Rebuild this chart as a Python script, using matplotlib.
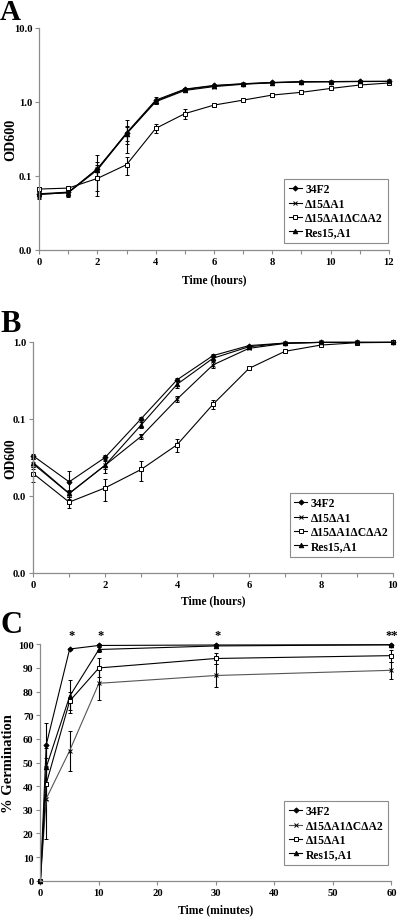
import matplotlib.pyplot as plt
import numpy as np
from matplotlib.ticker import FixedLocator, FixedFormatter
from matplotlib.lines import Line2D

# ---- data ----
# A: growth curve, hours 0-12
hours_a = list(range(13))
a_34f2 = [0.057, 0.060, 0.123, 0.38, 1.05, 1.48, 1.66, 1.75, 1.82, 1.86, 1.87, 1.88, 1.88]
a_d15 = [0.056, 0.059, 0.125, 0.37, 1.00, 1.42, 1.60, 1.72, 1.80, 1.85, 1.86, 1.87, 1.88]
a_cdel = [0.066, 0.068, 0.092, 0.141, 0.436, 0.69, 0.90, 1.05, 1.23, 1.34, 1.51, 1.68, 1.79]
a_res = [0.056, 0.059, 0.120, 0.37, 1.02, 1.46, 1.64, 1.74, 1.81, 1.86, 1.87, 1.88, 1.88]
a_34f2_err = [0.008, 0.008, 0.07, 0.18, 0.10, 0.05, 0.04, 0.03, 0.02, 0.02, 0.02, 0.02, 0.02]
a_d15_err = [0.006, 0.006, 0.03, 0.10, 0.06, 0.04, 0.03, 0.02, 0.02, 0.02, 0.02, 0.02, 0.02]
a_cdel_err = [0.004, 0.004, 0.03, 0.04, 0.06, 0.10, 0.04, 0.03, 0.04, 0.05, 0.03, 0.03, 0.03]
a_res_err = [0.005, 0.005, 0.02, 0.08, 0.05, 0.04, 0.03, 0.02, 0.02, 0.02, 0.02, 0.02, 0.02]

# B: growth curve, hours 0-10
hours_b = list(range(11))
b_34f2 = [0.033, 0.0152, 0.0315, 0.100, 0.32, 0.66, 0.89, 0.96, 0.98, 0.98, 0.98]
b_d15 = [0.026, 0.0107, 0.025, 0.059, 0.18, 0.50, 0.82, 0.95, 0.98, 0.98, 0.98]
b_cdel = [0.0195, 0.0083, 0.0127, 0.022, 0.046, 0.154, 0.45, 0.75, 0.905, 0.97, 0.98]
b_res = [0.027, 0.0108, 0.025, 0.083, 0.28, 0.61, 0.86, 0.96, 0.98, 0.98, 0.98]
b_34f2_err = [0.002, 0.006, 0.002, 0.004, 0.015, 0.03, 0.02, 0.01, 0.01, 0.01, 0.01]
b_d15_err = [0.004, 0.001, 0.003, 0.005, 0.015, 0.04, 0.02, 0.01, 0.01, 0.01, 0.01]
b_cdel_err = [0.0045, 0.0013, 0.004, 0.0065, 0.009, 0.02, 0.02, 0.03, 0.02, 0.01, 0.01]
b_res_err = [0.003, 0.001, 0.005, 0.008, 0.03, 0.04, 0.02, 0.01, 0.01, 0.01, 0.01]

# C: germination, minutes
minutes = [0, 1, 5, 10, 30, 60]
c_34f2 = [0, 57.5, 98.0, 99.5, 99.7, 99.8]
c_cdel = [0, 34.7, 55.0, 83.5, 86.8, 89.0]
c_d15 = [0, 41.0, 76.0, 90.0, 94.0, 95.2]
c_res = [0, 48.0, 78.0, 97.8, 99.3, 99.8]
c_34f2_err = [0, 9, 0.5, 0.5, 0.5, 0.5]
c_cdel_err = [0, 17, 8.5, 7, 4.7, 3.7]
c_d15_err = [0, 7, 4, 4, 2.2, 2.5]
c_res_err = [0, 8, 7, 1, 0.5, 0.5]
star_x = [5.3, 10.3, 30.3, 60]
star_txt = ['*', '*', '*', '**']

lab_34f2 = '34F2'
lab_d15 = 'Δ15ΔA1'
lab_cdel = 'Δ15ΔA1ΔCΔA2'
lab_res = 'Res15,A1'

plt.rcParams['font.family'] = ['Liberation Serif', 'DejaVu Serif']
plt.rcParams['font.weight'] = 'bold'
plt.rcParams['axes.labelweight'] = 'bold'

GRAY = '#8c8c8c'
fig = plt.figure(figsize=(4, 9.2), dpi=100)


def style_axes(ax):
    for s in ['top', 'right']:
        ax.spines[s].set_visible(False)
    for s in ['left', 'bottom']:
        ax.spines[s].set_color(GRAY)
        ax.spines[s].set_linewidth(0.9)
    ax.tick_params(direction='out', length=3, width=0.8, color=GRAY,
                   labelsize=7.6, pad=2)
    ax.tick_params(which='minor', length=0)
    for t in ax.get_xticklabels() + ax.get_yticklabels():
        t.set_fontweight('bold')


def series(ax, x, y, e, marker, ms, label, color='black', mfc='black'):
    ax.errorbar(x, y, yerr=e, color=color, lw=0.8, marker=marker, ms=ms,
                mfc=mfc, mec='black', mew=0.7, elinewidth=0.8, ecolor='black',
                capsize=1.6, capthick=0.8, clip_on=False)
    return Line2D([], [], color=color, lw=0.8, marker=marker, ms=ms,
                  mfc=mfc, mec='black', mew=0.7, label=label)


def legend(ax, handles, anchor):
    leg = ax.legend(handles=handles, loc='lower right', bbox_to_anchor=anchor,
                    borderaxespad=0, prop={'size': 8.4, 'weight': 'bold'},
                    handlelength=1.1, handletextpad=0.3, labelspacing=0.2,
                    borderpad=0.4, fancybox=False, framealpha=1, edgecolor=GRAY)
    leg.get_frame().set_linewidth(0.8)
    return leg


# ---- A ----
axA = fig.add_axes([0.098, 0.7275, 0.874, 0.2413])
hA = [series(axA, hours_a, a_34f2, a_34f2_err, 'D', 2.6, lab_34f2),
      series(axA, hours_a, a_d15, a_d15_err, 'x', 3.2, lab_d15),
      series(axA, hours_a, a_cdel, a_cdel_err, 's', 3.4, lab_cdel, mfc='white'),
      series(axA, hours_a, a_res, a_res_err, '^', 3.2, lab_res)]
axA.set_yscale('log')
axA.set_ylim(0.01, 10)
axA.set_xlim(0, 12)
axA.yaxis.set_major_locator(FixedLocator([0.01, 0.1, 1, 10]))
axA.yaxis.set_major_formatter(FixedFormatter(['0.0', '0.1', '1.0', '10.0']))
axA.yaxis.set_minor_locator(FixedLocator([]))
axA.set_xticks(hours_a)
axA.set_xticklabels([str(h) if h % 2 == 0 else '' for h in hours_a])
axA.set_xlabel('Time (hours)', fontsize=8.4)
axA.set_ylabel('OD600', fontsize=10.2)
axA.xaxis.set_label_coords(0.5, -0.105)
axA.yaxis.set_label_coords(-0.062, 0.5)
style_axes(axA)
legend(axA, hA, (0.997, 0.03))

# ---- B ----
axB = fig.add_axes([0.083, 0.3761, 0.899, 0.2514])
hB = [series(axB, hours_b, b_34f2, b_34f2_err, 'D', 2.6, lab_34f2),
      series(axB, hours_b, b_d15, b_d15_err, 'x', 3.2, lab_d15),
      series(axB, hours_b, b_cdel, b_cdel_err, 's', 3.4, lab_cdel, mfc='white'),
      series(axB, hours_b, b_res, b_res_err, '^', 3.2, lab_res)]
axB.set_yscale('log')
axB.set_ylim(0.001, 1)
axB.set_xlim(0, 10)
axB.yaxis.set_major_locator(FixedLocator([0.001, 0.01, 0.1, 1]))
axB.yaxis.set_major_formatter(FixedFormatter(['0.0', '0.0', '0.1', '1.0']))
axB.yaxis.set_minor_locator(FixedLocator([]))
axB.set_xticks(hours_b)
axB.set_xticklabels([str(h) if h % 2 == 0 else '' for h in hours_b])
axB.set_xlabel('Time (hours)', fontsize=8.4)
axB.set_ylabel('OD600', fontsize=9.8)
axB.xaxis.set_label_coords(0.5, -0.092)
axB.yaxis.set_label_coords(-0.045, 0.5)
style_axes(axB)
legend(axB, hB, (1.001, 0.069))

# ---- C ----
axC = fig.add_axes([0.101, 0.0416, 0.8775, 0.257])
hC = [series(axC, minutes, c_34f2, c_34f2_err, 'D', 2.6, lab_34f2),
      series(axC, minutes, c_cdel, c_cdel_err, 'x', 3.2, lab_cdel, color='#555555'),
      series(axC, minutes, c_d15, c_d15_err, 's', 3.4, lab_d15, mfc='white'),
      series(axC, minutes, c_res, c_res_err, '^', 3.2, lab_res)]
axC.set_xlim(0, 60)
axC.set_ylim(0, 100)
axC.set_xticks(range(0, 61, 10))
axC.set_yticks(range(0, 101, 10))
for sx, st in zip(star_x, star_txt):
    axC.text(sx, 101.2, st, ha='center', va='bottom', fontsize=9)
axC.set_xlabel('Time (minutes)', fontsize=8.4)
axC.set_ylabel('% Germination', fontsize=10.5)
axC.xaxis.set_label_coords(0.5, -0.095)
axC.yaxis.set_label_coords(-0.073, 0.5)
style_axes(axC)
legend(axC, hC, (0.99, 0.066))

# panel letters
fig.text(0.0, 1 - 20 / 920, 'A', fontsize=21, fontweight='bold', va='baseline')
fig.text(0.0, 1 - 332 / 920, 'B', fontsize=22, fontweight='bold', va='baseline')
fig.text(0.0, 1 - 633 / 920, 'C', fontsize=22, fontweight='bold', va='baseline')

fig.savefig('out.png', dpi=100)
